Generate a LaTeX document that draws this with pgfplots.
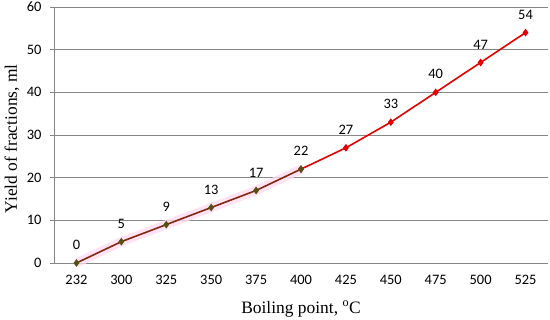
\documentclass[border=0pt]{standalone}
\usepackage{pgfplots}
\pgfplotsset{compat=1.18}
\usepackage{fontspec}
\setmainfont{Liberation Serif}
\newfontfamily\calibri{Carlito}
\definecolor{brownline}{RGB}{128,40,16}
\definecolor{olivemark}{RGB}{85,80,20}
\definecolor{redline}{RGB}{228,0,0}
\definecolor{axgray}{RGB}{134,134,134}
\definecolor{pinkglow}{RGB}{255,220,242}
\begin{document}
\begin{tikzpicture}
\begin{axis}[
  at={(54bp,57bp)}, anchor=south west,
  scale only axis, width=494bp, height=256bp,
  xmin=-0.5, xmax=10.5, ymin=0, ymax=60,
  xtick={0,...,10},
  xticklabels={232,300,325,350,375,400,425,450,475,500,525},
  ytick={0,10,...,60},
  axis x line*=bottom, axis y line*=left,
  axis line style={axgray, line width=0.8pt},
  x axis line style={-}, y axis line style={-},
  ymajorgrids, grid style={axgray, line width=0.8pt},
  xtick style={draw=none},
  ytick style={axgray, line width=0.8pt},
  tick align=outside, major tick length=4bp,
  /pgf/number format/assume math mode=true,
  ticklabel style={font=\calibri\fontsize{14.5}{14.5}\selectfont, text=black},
  yticklabel style={xshift=-5bp},
  xticklabel style={yshift=-5bp},
  xlabel={Boiling point, \textsuperscript{o}C},
  ylabel={Yield of fractions, ml},
  label style={font=\fontsize{17.5}{17.5}\selectfont},
  xlabel style={at={([yshift=-46bp]axis description cs:0.5,0)}, anchor=center},
  ylabel style={at={([xshift=-42bp]axis description cs:0,0.485)}, anchor=center},
  clip=false,
]
% pink highlight behind the first segment
\addplot[pinkglow, line width=9bp, opacity=0.8, line join=round] coordinates {
  (0,0) (1,5) (2,9) (3,13) (4,17) (5,22)
};
% red segment
\addplot[redline, line width=1.6pt, mark=diamond*, mark size=2.6bp,
  mark options={fill=redline, draw=redline}] coordinates {
  (5,22) (6,27) (7,33) (8,40) (9,47) (10,54)
};
% brown segment
\addplot[brownline, line width=1.6pt, mark=diamond*, mark size=2.6bp,
  mark options={fill=olivemark, draw=olivemark}] coordinates {
  (0,0) (1,5) (2,9) (3,13) (4,17) (5,22)
};
% data labels
\addplot[draw=none, mark=none, nodes near coords,
  nodes near coords style={font=\calibri\fontsize{14.5}{14.5}\selectfont, text=black, anchor=center, yshift=18bp},
  point meta=explicit symbolic] coordinates {
  (0,0) [0] (1,5) [5] (2,9) [9] (3,13) [13] (4,17) [17] (5,22) [22]
  (6,27) [27] (7,33) [33] (8,40) [40] (9,47) [47] (10,54) [54]
};
\end{axis}
\pgfresetboundingbox
\useasboundingbox (0,0) rectangle (550bp,320bp);
\end{tikzpicture}
\end{document}
